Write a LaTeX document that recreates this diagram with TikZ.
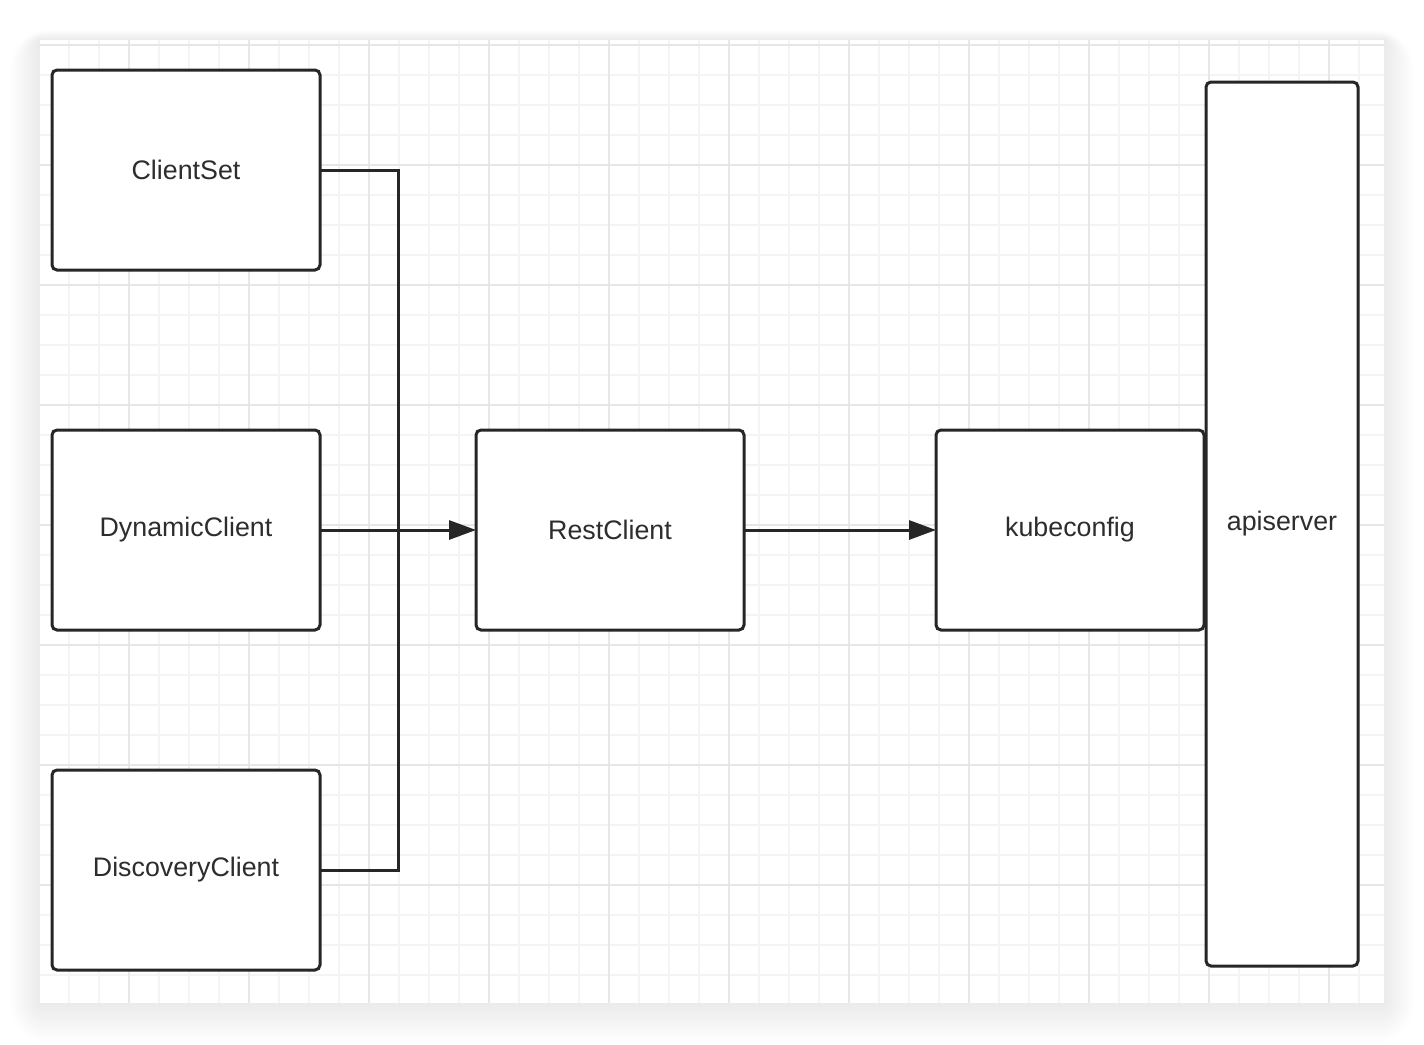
\documentclass[tikz,border=0pt]{standalone}
\usepackage{fontspec}
\setmainfont{Liberation Sans}
\usepackage{tikz}
\usetikzlibrary{arrows.meta,positioning}
\usepackage{xcolor}
\definecolor{boxline}{RGB}{38,38,38}
\definecolor{boxtext}{RGB}{45,45,45}
\definecolor{gridminor}{RGB}{244,244,244}
\definecolor{gridmajor}{RGB}{232,230,230}
\tikzset{
  cblock/.style={
    rectangle, draw=boxline, fill=white, rounded corners=2.5pt, line width=1.5pt, outer sep=0pt,
    minimum width=134pt, minimum height=100pt, text=boxtext, font=\fontsize{13.4}{16}\selectfont
  },
  carrow/.style={draw=boxline, line width=1.5pt, -{Triangle[length=13.5pt, width=9.5pt]}},
  cline/.style={draw=boxline, line width=1.5pt}
}

\begin{document}
\begin{tikzpicture}[x=0.5pt, y=-0.5pt]
        \useasboundingbox (0,0) rectangle (1424,1044);
        % shadow and canvas
        \foreach \i in {1,...,20}
          \fill[black, opacity=0.005, rounded corners=\i pt] ({40-\i*1.5},{40-\i*0.5}) rectangle ({1384+\i*1.5},{1003+\i*2});
        \fill[white] (40,40) rectangle (1384,1003);
        \foreach \x in {69,99,...,1383}
          \draw[gridminor, line width=1pt] (\x,40) -- (\x,1003);
        \foreach \y in {45,75,...,1002}
          \draw[gridminor, line width=1pt] (40,\y) -- (1384,\y);
        \foreach \x in {129,249,...,1383}
          \draw[gridmajor, line width=1pt] (\x,40) -- (\x,1003);
        \foreach \y in {45,165,...,1002}
          \draw[gridmajor, line width=1pt] (40,\y) -- (1384,\y);
        % blocks
        \node[cblock]                                   (cs) at (186,170) {ClientSet};
        \node[cblock, below=80pt of cs]                 (dy) {DynamicClient};
        \node[cblock, below=70pt of dy]                 (dc) {DiscoveryClient};
        \node[cblock, right=78pt of dy]                 (rc) {RestClient};
        \node[cblock, right=96pt of rc]                 (kc) {kubeconfig};
        \node[cblock, minimum width=76pt, minimum height=442pt,
              anchor=north west]                        (api) at (1206,82) {apiserver};
        \coordinate (bus) at (398,530);
        \draw[cline] (cs.east) -| (bus) |- (dc.east);
        \foreach \i/\j in {dy/rc,rc/kc}
          \draw[carrow] (\i) -- (\j);
      \end{tikzpicture}
\end{document}
